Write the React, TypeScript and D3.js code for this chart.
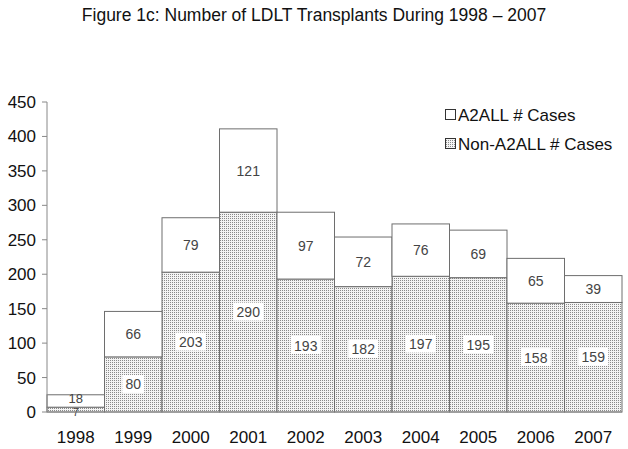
import React, { useEffect, useRef } from 'react';
import * as d3 from 'd3';

const years = ['1998', '1999', '2000', '2001', '2002', '2003', '2004', '2005', '2006', '2007'];
const nonA2all = [7, 80, 203, 290, 193, 182, 197, 195, 158, 159];
const a2all = [18, 66, 79, 121, 97, 72, 76, 69, 65, 39];
const yTicks = [0, 50, 100, 150, 200, 250, 300, 350, 400, 450];

const App = () => {
  const svgRef = useRef<SVGSVGElement>(null);

  useEffect(() => {
    const svg = d3.select(svgRef.current);
    svg.selectAll('*').remove();
    const font = 'Liberation Sans, Arial, sans-serif';

    const x = d3.scaleBand().domain(years).range([47, 622]).padding(0);
    const y = d3.scaleLinear().domain([0, 450]).range([412, 102]);

    const defs = svg.append('defs');
    const pat = defs.append('pattern')
      .attr('id', 'dots')
      .attr('patternUnits', 'userSpaceOnUse')
      .attr('width', 2)
      .attr('height', 2);
    pat.append('rect').attr('width', 2).attr('height', 2).attr('fill', '#f4f4f4');
    pat.append('rect').attr('width', 1).attr('height', 1).attr('fill', '#8a8a8a');

    svg.append('text')
      .attr('x', 314).attr('y', 21)
      .attr('text-anchor', 'middle')
      .attr('font-family', font).attr('font-size', 17.5)
      .attr('fill', '#111')
      .text('Figure 1c: Number of LDLT Transplants During 1998 \u2013 2007');

    const rows = years.map((yr, i) => ({ yr, lo: nonA2all[i], hi: a2all[i] }));

    // non-A2ALL segments
    svg.append('g').selectAll('rect').data(rows).enter().append('rect')
      .attr('x', d => x(d.yr)!)
      .attr('y', d => y(d.lo))
      .attr('width', x.bandwidth())
      .attr('height', d => y(0) - y(d.lo))
      .attr('fill', 'url(#dots)')
      .attr('stroke', '#6e6e6e').attr('stroke-width', 1);

    // A2ALL segments
    svg.append('g').selectAll('rect').data(rows).enter().append('rect')
      .attr('x', d => x(d.yr)!)
      .attr('y', d => y(d.lo + d.hi))
      .attr('width', x.bandwidth())
      .attr('height', d => y(d.lo) - y(d.lo + d.hi))
      .attr('fill', '#fff')
      .attr('stroke', '#6e6e6e').attr('stroke-width', 1);

    // value labels
    const addLabel = (cx: number, cy: number, txt: string, boxed: boolean, fs: number) => {
      const g = svg.append('g');
      if (boxed) {
        const w = txt.length * 8 + 6;
        g.append('rect')
          .attr('x', cx - w / 2).attr('y', cy - 9.5)
          .attr('width', w).attr('height', 18)
          .attr('fill', '#fff');
      }
      g.append('text')
        .attr('x', cx).attr('y', cy + fs * 0.36)
        .attr('text-anchor', 'middle')
        .attr('font-family', font).attr('font-size', fs)
        .attr('fill', '#444')
        .text(txt);
    };
    rows.forEach(d => {
      const cx = x(d.yr)! + x.bandwidth() / 2;
      const small = d.lo < 20;
      addLabel(cx, small ? 412 : (y(0) + y(d.lo)) / 2, String(d.lo), !small, small ? 11 : 14);
      addLabel(cx, small ? 398 : (y(d.lo) + y(d.lo + d.hi)) / 2, String(d.hi), !small, small ? 13 : 14);
    });

    // axes
    const ax = svg.append('g');
    ax.append('line')
      .attr('x1', 47).attr('x2', 47)
      .attr('y1', y(450)).attr('y2', y(0))
      .attr('stroke', '#888');
    ax.append('line')
      .attr('x1', 47).attr('x2', 622)
      .attr('y1', y(0)).attr('y2', y(0))
      .attr('stroke', '#888');
    yTicks.forEach(t => {
      ax.append('line')
        .attr('x1', 42).attr('x2', 47)
        .attr('y1', y(t)).attr('y2', y(t))
        .attr('stroke', '#888');
      ax.append('text')
        .attr('x', 36).attr('y', y(t) + 6)
        .attr('text-anchor', 'end')
        .attr('font-family', font).attr('font-size', 17)
        .attr('fill', '#111')
        .text(t);
    });

    // x labels
    svg.append('g').selectAll('text').data(years).enter().append('text')
      .attr('x', d => x(d)! + x.bandwidth() / 2)
      .attr('y', 443)
      .attr('text-anchor', 'middle')
      .attr('font-family', font).attr('font-size', 17)
      .attr('fill', '#111')
      .text(d => d);

    // legend
    const leg = svg.append('g');
    const items = [
      { label: 'A2ALL # Cases', fill: '#fff', yy: 115 },
      { label: 'Non-A2ALL # Cases', fill: 'url(#dots)', yy: 144 },
    ];
    items.forEach(it => {
      leg.append('rect')
        .attr('x', 445.5).attr('y', it.yy - 5.5)
        .attr('width', 10).attr('height', 10)
        .attr('fill', it.fill)
        .attr('stroke', '#333');
      leg.append('text')
        .attr('x', 458).attr('y', it.yy + 6)
        .attr('font-family', font).attr('font-size', 17)
        .attr('fill', '#111')
        .text(it.label);
    });
  }, []);

  return <svg ref={svgRef} width={628} height={449} style={{ position: 'absolute', left: 0, top: 0 }}></svg>;
};

export default App;
